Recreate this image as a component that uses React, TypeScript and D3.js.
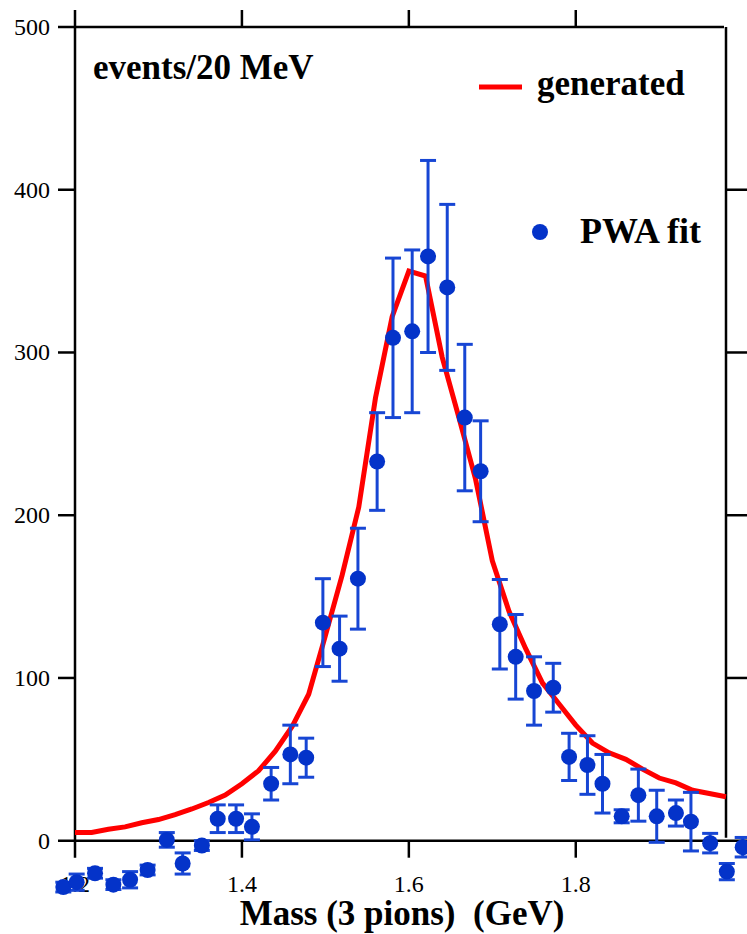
import React from 'react';
import * as d3 from 'd3';

// generated distribution (red line), sampled every 20 MeV
const genMass = [1.20, 1.22, 1.24, 1.26, 1.28, 1.30, 1.32, 1.34, 1.36, 1.38,
  1.40, 1.42, 1.44, 1.46, 1.48, 1.50, 1.52, 1.54, 1.56, 1.58,
  1.60, 1.62, 1.64, 1.66, 1.68, 1.70, 1.72, 1.74, 1.76, 1.78,
  1.80, 1.82, 1.84, 1.86, 1.88, 1.90, 1.92, 1.94, 1.96, 1.98];
const genEvents = [5, 5, 7, 8.5, 11, 13, 16, 19.5, 23.5, 28,
  35, 43, 55, 70, 90, 126, 163, 205, 272, 322,
  350, 347, 297, 260, 222, 172, 141, 118, 97, 84,
  71, 60, 54, 50, 44, 38.5, 35.5, 31, 29, 27];

// PWA fit points with error bars
const fitMass = [1.186, 1.202, 1.224, 1.246, 1.266, 1.287, 1.310, 1.329, 1.352, 1.371,
  1.393, 1.412, 1.435, 1.458, 1.477, 1.497, 1.517, 1.539, 1.562, 1.581,
  1.604, 1.623, 1.646, 1.667, 1.686, 1.709, 1.728, 1.750, 1.773, 1.792,
  1.814, 1.832, 1.855, 1.875, 1.897, 1.920, 1.938, 1.961, 1.981, 2.000];
const fitEvents = [-28.5, -25.5, -20, -27, -24, -18, 0.5, -14, -3, 13.5,
  13.5, 8.5, 35, 53, 51, 134, 118, 161, 233, 309,
  313, 359, 340, 260, 227, 133, 113, 92, 94, 51.5,
  46.5, 35, 15, 28, 15, 17, 11.7, -1.5, -19, -4];
const fitErrors = [3, 5, 3, 3, 5, 3, 4.5, 6.5, 3, 8.5,
  8.5, 8, 10, 18, 12, 27, 20, 31, 30, 49,
  50, 59, 51, 45, 31, 27.5, 26, 21, 15, 14.5,
  18, 18, 4, 16, 16, 8, 18, 6, 5, 6];

const xTicks = [1.2, 1.4, 1.6, 1.8];
const xTickLabels = ['1.2', '1.4', '1.6', '1.8'];
const yTicks = [0, 100, 200, 300, 400, 500];

const W = 747;
const H = 934;
const serif = "'Liberation Serif', 'Times New Roman', Times, serif";
const blue = '#0433c9';
const barBlue = '#1746d4';

export default function App() {
  const x = d3.scaleLinear().domain([1.2, 1.98]).range([75, 726]);
  const y = d3.scaleLinear().domain([0, 500]).range([840.7, 27]);

  const genLine = d3.line<number>()
    .x((_, i) => x(genMass[i]))
    .y(d => y(d));

  const left = x(1.2);
  const right = x(1.98);
  const top = y(500);
  const zero = y(0);

  return (
    <>
      <style>{`body{margin:0}`}</style>
      <svg width={W} height={H} style={{ display: 'block', background: '#fff' }}>
        {/* frame */}
        <g stroke="#000" strokeWidth={2.5} fill="none">
          <line x1={left} x2={left} y1={10} y2={zero + 17} />
          <line x1={58} x2={right - 2} y1={top} y2={top} />
          <line x1={right} x2={right} y1={top} y2={zero - 3} />
          <line x1={58} x2={W} y1={zero} y2={zero} />
          {xTicks.slice(1).map(t => (
            <g key={t}>
              <line x1={x(t)} x2={x(t)} y1={10} y2={top} />
              <line x1={x(t)} x2={x(t)} y1={zero} y2={zero + 17} />
            </g>
          ))}
          {yTicks.slice(1, 5).map(t => (
            <g key={t}>
              <line x1={58} x2={left} y1={y(t)} y2={y(t)} />
              <line x1={right} x2={W} y1={y(t)} y2={y(t)} />
            </g>
          ))}
        </g>

        {/* tick labels */}
        <g style={{ fontFamily: serif, fontSize: 24 }} fill="#000">
          {yTicks.map(t => (
            <text key={t} x={50} y={y(t) + 8} textAnchor="end">{t}</text>
          ))}
          {xTicks.map((t, i) => (
            <text key={t} x={x(t)} y={892} textAnchor="middle">{xTickLabels[i]}</text>
          ))}
        </g>

        {/* generated curve */}
        <path d={genLine(genEvents) || ''} fill="none" stroke="#ff0000" strokeWidth={5}
          strokeLinejoin="miter" />

        {/* PWA fit with error bars */}
        <g stroke={barBlue} strokeWidth={3}>
          {fitEvents.map((v, i) => {
            const cx = x(fitMass[i]);
            const hi = y(v + fitErrors[i]);
            const lo = y(v - fitErrors[i]);
            return (
              <g key={i}>
                <line x1={cx} x2={cx} y1={hi} y2={lo} />
                <line x1={cx - 8} x2={cx + 8} y1={hi} y2={hi} />
                <line x1={cx - 8} x2={cx + 8} y1={lo} y2={lo} />
              </g>
            );
          })}
        </g>
        <g fill={blue}>
          {fitEvents.map((v, i) => (
            <circle key={i} cx={x(fitMass[i])} cy={y(v)} r={8} />
          ))}
        </g>

        {/* labels and legend */}
        <g style={{ fontFamily: serif, fontWeight: 'bold', fontSize: 35 }} fill="#000">
          <text x={93} y={79}>events/20 MeV</text>
          <text x={537} y={95}>generated</text>
          <text x={580} y={243} style={{ fontSize: 36 }}>PWA fit</text>
          <text x={402} y={925} textAnchor="middle" style={{ whiteSpace: 'pre' }}>
            {'Mass (3 pions)  (GeV)'}
          </text>
        </g>
        <line x1={479} x2={522} y1={87} y2={87} stroke="#ff0000" strokeWidth={5} />
        <circle cx={540} cy={232} r={8} fill={blue} />
      </svg>
    </>
  );
}
